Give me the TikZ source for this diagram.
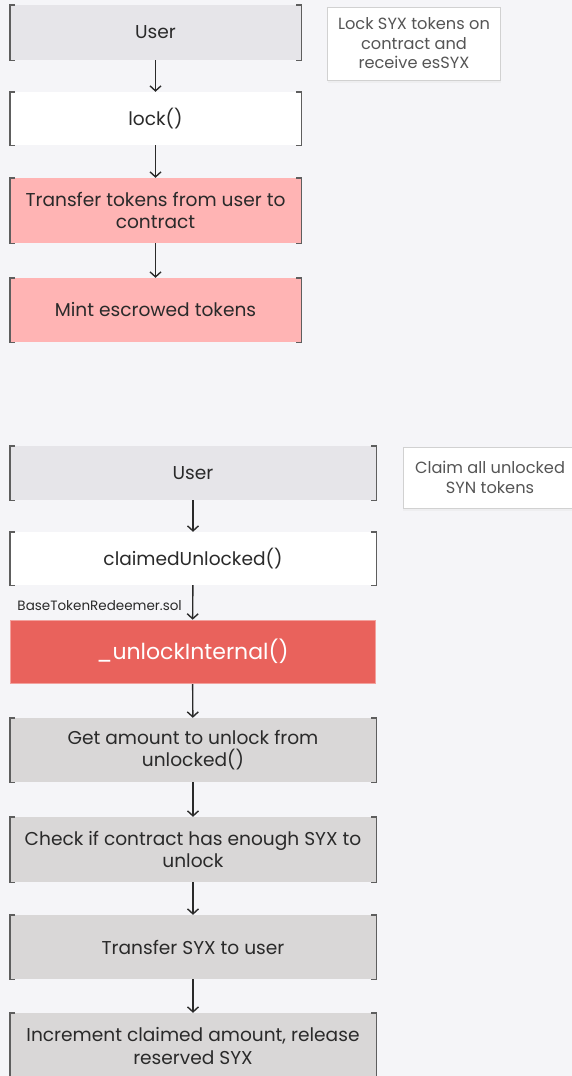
\documentclass[tikz,border=0pt]{standalone}
\usepackage{fontspec}
\setmainfont{Poppins}
\usepackage{tikz}
\usetikzlibrary{arrows.meta,shadows}
\definecolor{bgcol}{HTML}{F5F5F8}
\definecolor{usergray}{HTML}{E6E5E9}
\definecolor{stepgray}{HTML}{D9D7D7}
\definecolor{lpink}{HTML}{FFB4B4}
\definecolor{hotred}{HTML}{E9625C}
\definecolor{inkgray}{HTML}{2A2A2A}
\definecolor{notegray}{HTML}{555555}
\definecolor{brackgray}{HTML}{5E5E5E}
\pgfdeclarelayer{edgelayer}
\pgfdeclarelayer{nodelayer}
\pgfsetlayers{edgelayer,nodelayer,main}
\tikzstyle{stepbox}=[rectangle, inner sep=0pt, text=inkgray, align=center, font=\fontsize{18.6}{22.5}\selectfont]
\tikzstyle{topbox}=[stepbox, minimum width=291pt]
\tikzstyle{lowbox}=[stepbox, minimum width=366pt]
\tikzstyle{notebox}=[rectangle, fill=white, draw=black!18, line width=0.6pt, text=notegray, align=center, inner sep=0pt, font=\fontsize{16.2}{19.5}\selectfont, drop shadow={opacity=0.06, shadow xshift=0pt, shadow yshift=-3pt}]
\tikzstyle{bracket}=[draw=brackgray, line width=1.4pt]
\tikzstyle{arrow}=[-{Straight Barb[length=5pt, width=11pt]}, draw=inkgray, line width=1.4pt]
\newcommand{\brackets}[1]{%
  \draw [style=bracket] ([xshift=5pt]#1.north west) -- (#1.north west) -- (#1.south west) -- ([xshift=5pt]#1.south west);
  \draw [style=bracket] ([xshift=-5pt]#1.north east) -- (#1.north east) -- (#1.south east) -- ([xshift=-5pt]#1.south east);
}
\begin{document}
\begin{tikzpicture}[x=1pt, y=-1pt]
            \useasboundingbox (0, 0) rectangle (572, 1076);
            \begin{pgfonlayer}{nodelayer}
                % lock flow
                \node [style=topbox, fill=usergray, minimum height=55pt] (usera) at (155.5, 32.5) {User};
                \node [style=topbox, fill=white, minimum height=53pt] (lockfn) at (155.5, 118.5) {lock()};
                \node [style=topbox, fill=lpink, minimum height=65pt] (transfer) at (155.5, 210.5) {Transfer tokens from user to\\contract};
                \node [style=topbox, fill=lpink, minimum height=64pt] (mint) at (155.5, 310) {Mint escrowed tokens};
                \node [style=notebox, minimum width=173pt, minimum height=73pt] (locknote) at (414, 43.5) {Lock SYX tokens on\\contract and\\receive esSYX};
                \brackets{usera}
                \brackets{lockfn}
                \brackets{transfer}
                \brackets{mint}

                % claim flow
                \node [style=lowbox, fill=usergray, minimum height=54pt] (userb) at (193, 473) {User};
                \node [style=lowbox, fill=white, minimum height=53pt] (claim) at (193, 558.5) {claimedUnlocked()};
                \node [style=lowbox, fill=hotred, draw=hotred!60!white, line width=0.6pt, text=white, minimum width=365pt, minimum height=63pt, font=\fontsize{22}{26}\selectfont] (unlock) at (192.5, 651.5) {\_unlockInternal()};
                \node [style=lowbox, fill=stepgray, minimum height=64pt] (getamount) at (193, 750) {Get amount to unlock from\\unlocked()};
                \node [style=lowbox, fill=stepgray, minimum height=65pt] (check) at (193, 849.5) {Check if contract has enough SYX to\\unlock};
                \node [style=lowbox, fill=stepgray, minimum height=64pt] (sendsyx) at (193, 947) {Transfer SYX to user};
                \node [style=lowbox, fill=stepgray, minimum height=66pt] (increment) at (193, 1046) {Increment claimed amount, release\\reserved SYX};
                \node [style=notebox, minimum width=174pt, minimum height=61pt] (claimnote) at (490, 477.5) {Claim all unlocked\\SYN tokens};
                \node [anchor=east, inner sep=0pt, text=inkgray, font=\fontsize{13.5}{16}\selectfont] (redeemer) at (182, 606) {BaseTokenRedeemer.sol};
                \brackets{userb}
                \brackets{claim}
                \brackets{getamount}
                \brackets{check}
                \brackets{sendsyx}
                \brackets{increment}
            \end{pgfonlayer}
            \begin{pgfonlayer}{edgelayer}
                \fill [bgcol] (0, 0) rectangle (572, 1076);
                \draw [style=arrow] (usera) to (lockfn);
                \draw [style=arrow] (lockfn) to (transfer);
                \draw [style=arrow] (transfer) to (mint);

                \draw [style=arrow] (userb) to (claim);
                \draw [style=arrow] (claim) to (unlock);
                \draw [style=arrow] (unlock) to (getamount);
                \draw [style=arrow] (getamount) to (check);
                \draw [style=arrow] (check) to (sendsyx);
                \draw [style=arrow] (sendsyx) to (increment);
            \end{pgfonlayer}
        \end{tikzpicture}
\end{document}
